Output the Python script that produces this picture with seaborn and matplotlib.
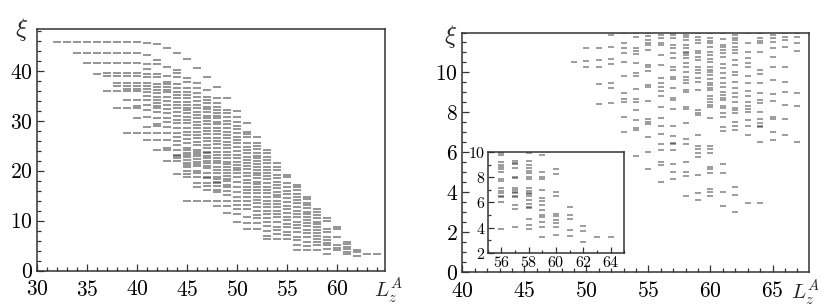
import matplotlib
matplotlib.use("Agg")
import matplotlib.pyplot as plt
import seaborn as sns
import pandas as pd
from matplotlib.ticker import MultipleLocator, FixedLocator

# ---------------- data ----------------
left_L = list(range(32, 65))
left_xi = [
    [45.8],
    [45.8],
    [45.8, 43.6],
    [45.8, 43.6, 41.5],
    [45.8, 43.6, 41.5, 39.3],
    [45.8, 43.6, 41.5, 39.5, 38.9, 35.9],
    [45.8, 43.6, 41.5, 39.5, 38.9, 37.5, 36.9, 35.9, 32.5],
    [45.8, 43.6, 41.5, 39.5, 38.9, 37.5, 36.9, 36.4, 35.9, 34.1, 32.5, 27.6],
    [45.8, 43.6, 41.5, 39.5, 38.9, 37.5, 36.9, 36.4, 35.9, 34.1, 33.0, 32.5, 30.6, 27.6],
    [45.6, 43.1, 41.3, 40.3, 39.3, 38.8, 37.5, 37.0, 36.3, 35.8, 35.0, 34.1, 33.1, 32.1, 30.8, 28.8, 27.6, 26.1],
    [45.3, 42.1, 41.3, 39.3, 38.8, 37.3, 36.8, 36.1, 35.5, 34.8, 34.1, 33.5, 33.0, 32.5, 31.7, 30.6, 29.3, 29.0,
     27.6, 26.1, 24.1],
    [44.6, 40.8, 39.0, 37.8, 37.3, 36.8, 36.1, 35.7, 34.8, 33.9, 33.1, 32.3, 31.5, 30.5, 29.7, 28.8, 27.5, 26.1,
     24.5, 24.1, 21.9],
    [43.6, 40.1, 39.5, 38.8, 37.3, 36.5, 35.8, 35.1, 34.5, 33.8, 33.1, 32.5, 31.7, 31.0, 30.1, 29.5, 28.5, 27.5,
     26.8, 25.9, 25.1, 24.1, 23.1, 22.9, 22.5, 21.9, 19.3],
    [42.3, 38.5, 37.7, 36.6, 35.8, 35.1, 34.5, 33.8, 33.1, 32.6, 32.1, 31.5, 30.8, 30.1, 29.5, 28.6, 27.8, 27.1,
     26.3, 25.5, 24.5, 24.1, 23.5, 23.1, 22.8, 22.1, 21.6, 21.1, 20.8, 20.0, 19.3, 18.8, 13.9],
    [40.6, 37.5, 36.6, 35.5, 34.8, 33.9, 33.1, 32.6, 31.8, 31.1, 30.5, 29.8, 29.1, 28.5, 27.8, 27.1, 26.5, 25.8,
     25.1, 24.1, 23.8, 23.3, 22.9, 22.3, 21.8, 21.3, 20.9, 20.0, 19.6, 18.8, 17.6, 16.7, 13.9],
    [38.8, 36.1, 34.8, 34.1, 33.5, 32.8, 32.3, 31.7, 31.0, 30.5, 29.9, 29.3, 28.6, 27.9, 27.3, 26.6, 25.9, 25.1,
     24.5, 23.8, 23.5, 22.9, 22.5, 22.0, 21.5, 20.9, 20.5, 19.6, 18.8, 18.5, 17.6, 16.9, 16.1, 13.9],
    [36.8, 34.5, 33.5, 32.8, 32.1, 31.5, 31.0, 30.5, 29.8, 29.3, 28.6, 27.9, 27.3, 26.6, 25.9, 25.3, 24.6, 23.8,
     23.1, 22.5, 21.9, 21.5, 20.8, 20.1, 19.5, 18.8, 18.3, 17.8, 17.5, 16.9, 16.1, 15.8, 13.9, 12.9],
    [34.6, 32.1, 31.5, 30.8, 29.9, 29.3, 28.6, 27.8, 27.1, 26.5, 25.8, 25.1, 24.5, 23.8, 23.1, 22.5, 21.8, 21.3,
     20.7, 20.1, 19.6, 19.0, 18.4, 17.9, 17.2, 16.7, 16.0, 15.1, 13.9, 12.9, 11.5],
    [32.0, 30.8, 29.8, 28.9, 28.3, 27.5, 26.8, 26.1, 25.5, 24.7, 24.0, 23.1, 22.5, 21.8, 21.1, 20.5, 20.1, 19.5,
     18.7, 17.8, 16.8, 15.8, 14.8, 13.9, 13.1, 12.3, 11.3, 9.8],
    [29.5, 27.8, 27.3, 26.8, 25.5, 24.8, 24.1, 23.5, 22.8, 22.1, 21.6, 20.9, 20.3, 19.6, 18.9, 18.1, 17.5, 16.7,
     16.1, 15.5, 14.7, 13.9, 13.1, 12.3, 10.8, 9.6, 8.3],
    [26.8, 25.5, 24.9, 24.3, 23.6, 22.9, 22.5, 22.0, 21.3, 20.8, 20.1, 19.6, 19.1, 18.5, 17.8, 17.3, 16.8, 16.1,
     15.5, 14.8, 14.1, 13.5, 12.7, 12.0, 11.1, 10.5, 9.5, 8.3],
    [24.1, 23.5, 22.8, 22.1, 21.5, 20.8, 20.1, 19.5, 18.9, 18.3, 17.6, 16.8, 16.1, 15.5, 14.8, 14.0, 13.3, 12.7,
     12.0, 11.3, 10.5, 9.8, 8.9, 8.0, 6.9, 6.3],
    [21.6, 20.8, 20.1, 19.1, 18.5, 17.8, 17.1, 16.5, 15.8, 15.1, 14.7, 14.0, 13.3, 12.7, 12.0, 11.3, 10.7, 9.8,
     8.8, 8.1, 7.3, 6.3],
    [19.1, 18.7, 17.6, 16.8, 16.0, 15.3, 14.5, 13.8, 12.9, 12.3, 11.6, 10.8, 10.1, 9.3, 8.7, 7.8, 7.1, 6.3],
    [17.1, 16.7, 16.1, 15.3, 14.8, 14.1, 13.5, 12.8, 12.0, 11.3, 10.7, 9.8, 9.1, 8.5, 7.8, 6.8, 6.1, 5.1, 4.1],
    [14.8, 14.3, 13.6, 13.1, 12.5, 11.8, 11.3, 10.8, 10.1, 9.5, 8.9, 8.1, 7.5, 6.7, 5.8, 4.9, 4.1],
    [12.3, 11.8, 11.1, 10.5, 9.8, 9.3, 8.8, 8.1, 7.5, 6.9, 6.3, 5.8, 5.1, 4.1],
    [10.5, 10.0, 8.3, 7.8, 6.8, 6.1, 5.6, 5.1, 4.3, 3.3],
    [8.7, 8.3, 6.8, 5.1, 4.5, 4.1],
    [5.8, 5.3, 4.7, 4.3, 3.7, 3.3],
    [4.1, 3.7, 2.9],
    [3.3],
    [3.3],
]

right_L = list(range(49, 68))
right_xi = [
    [10.53],
    [11.2, 10.58, 10.25],
    [11.2, 10.6, 10.25, 9.4, 8.4],
    [11.87, 11.25, 10.65, 10.4, 9.45, 9.2, 8.48],
    [11.95, 11.45, 11.2, 10.95, 10.5, 9.8, 8.98, 8.65, 8.53, 7.78, 7.03],
    [11.95, 11.75, 11.2, 11.08, 10.9, 10.48, 9.95, 9.82, 9.17, 8.65, 8.53, 8.12, 7.62, 7.2, 7.1, 5.83],
    [11.95, 11.83, 11.62, 11.48, 11.37, 11.12, 10.37, 10.25, 10.08, 9.37, 9.28, 8.56, 7.65, 7.53, 7.42, 6.78,
     6.03, 5.15],
    [11.87, 11.7, 11.48, 11.37, 10.87, 10.37, 9.7, 9.45, 9.28, 9.07, 8.82, 8.28, 7.7, 7.32, 6.92, 6.42, 6.12,
     5.53, 5.37, 4.53],
    [11.98, 11.87, 11.7, 11.37, 11.2, 10.95, 10.7, 10.28, 10.12, 9.78, 9.65, 9.2, 8.7, 8.62, 8.15, 7.32, 6.82,
     6.48, 6.42, 6.12, 5.42, 5.03, 4.65],
    [11.87, 11.75, 11.62, 11.37, 11.2, 11.03, 10.95, 10.87, 10.7, 10.45, 10.28, 10.03, 9.78, 9.62, 9.45, 9.12,
     9.03, 8.25, 8.15, 7.45, 6.65, 6.42, 5.53, 5.03, 4.82, 3.82],
    [11.95, 11.78, 11.62, 11.48, 11.08, 10.95, 10.75, 10.62, 10.28, 10.12, 9.95, 9.7, 9.53, 9.12, 8.12, 7.98,
     7.87, 6.87, 6.32, 6.15, 5.95, 5.78, 4.87, 3.98, 3.62],
    [11.98, 11.7, 11.58, 11.45, 11.28, 11.03, 10.87, 10.65, 10.53, 10.28, 10.12, 10.03, 9.87, 9.65, 9.48, 9.37,
     9.2, 9.12, 8.82, 8.65, 8.53, 8.37, 8.25, 7.7, 6.32, 6.15, 5.98, 5.25, 5.17, 4.98, 4.15, 4.03, 3.82],
    [11.95, 11.65, 11.37, 11.25, 11.12, 10.95, 10.75, 10.42, 10.2, 9.95, 9.7, 9.45, 9.28, 9.03, 8.87, 8.7, 8.62,
     8.32, 8.2, 7.95, 7.75, 7.28, 7.07, 5.42, 4.95, 4.03, 3.32],
    [11.87, 11.7, 11.62, 11.48, 11.28, 11.12, 10.95, 10.62, 10.37, 10.03, 9.87, 9.53, 9.2, 8.95, 8.78, 8.53,
     8.23, 8.12, 7.95, 7.53, 7.32, 7.12, 4.28, 3.87, 3.03],
    [11.95, 11.45, 11.03, 10.7, 10.48, 10.28, 9.82, 9.45, 9.07, 8.82, 8.53, 8.32, 8.15, 8.03, 7.62, 7.32, 6.87,
     3.45],
    [11.98, 11.7, 11.58, 11.45, 11.03, 10.12, 9.92, 9.48, 8.95, 8.62, 8.45, 8.03, 7.65, 7.48, 7.32, 7.25, 6.53,
     3.45],
    [11.87, 11.7, 11.53, 11.2, 10.78, 10.28, 9.62, 8.92, 8.58, 7.78, 7.65, 7.03, 6.62],
    [11.98, 11.78, 11.62, 11.25, 10.28, 9.53, 9.03, 8.37, 7.65, 6.87],
    [11.95, 11.78, 11.48, 11.08, 8.98, 8.32, 6.53],
]

inset_L = list(range(56, 65))
inset_xi = [
    [9.92, 9.79, 9.26, 8.99, 8.80, 8.65, 8.46, 7.85, 7.72, 7.13, 6.95, 6.73, 6.52, 6.41, 6.02, 3.86],
    [9.34, 9.18, 9.07, 8.73, 8.06, 7.93, 7.13, 7.00, 6.87, 6.73, 6.52, 6.41, 5.80, 5.46, 4.08],
    [9.92, 9.34, 8.99, 8.73, 8.54, 8.33, 8.01, 7.88, 7.13, 6.95, 6.79, 6.65, 6.52, 6.20, 5.88, 5.67, 5.54,
     4.66, 4.21, 3.86],
    [9.79, 8.46, 8.01, 7.85, 7.00, 6.33, 6.12, 5.80, 5.41, 5.01, 4.87, 4.48, 4.02, 3.28],
    [8.65, 8.27, 6.87, 6.52, 5.09, 4.93, 4.61, 4.40, 4.02, 3.41],
    [5.62, 5.01, 4.66, 3.81, 3.33],
    [4.13, 3.76, 2.88],
    [3.28],
    [3.28],
]


def to_frame(Ls, xis):
    rows = [(L, v) for L, vals in zip(Ls, xis) for v in vals]
    return pd.DataFrame(rows, columns=["L", "xi"])


df_left = to_frame(left_L, left_xi)
df_right = to_frame(right_L, right_xi)
df_inset = to_frame(inset_L, inset_xi)

# ---------------- style ----------------
sns.set_theme(style="white")
plt.rcParams["font.family"] = ["cmr10", "DejaVu Serif"]
plt.rcParams["mathtext.fontset"] = "cm"
plt.rcParams["axes.formatter.use_mathtext"] = True
plt.rcParams["axes.unicode_minus"] = False

fig = plt.figure(figsize=(8.3, 3.07), dpi=100)
W, H = 830.0, 307.0


def add_ax(x0, y0, x1, y1):
    return fig.add_axes([x0 / W, 1 - y1 / H, (x1 - x0) / W, (y1 - y0) / H])


ax1 = add_ax(37, 29.3, 384.5, 270.7)
ax2 = add_ax(462.3, 32.5, 808.5, 272.3)
axi = add_ax(487.7, 152.3, 624.3, 252.7)

dash_kw = dict(marker="_", color="k", alpha=0.5, legend=False)
sns.scatterplot(data=df_left, x="L", y="xi", s=28, linewidth=1.3, ax=ax1, **dash_kw)
sns.scatterplot(data=df_right, x="L", y="xi", s=15, linewidth=1.2, ax=ax2, **dash_kw)
sns.scatterplot(data=df_inset, x="L", y="xi", s=20, linewidth=1.2, ax=axi, **dash_kw)


def style(ax, xlim, ylim, xmaj, xmin, ymaj, ymin, fs, maj_len, min_len, xpad):
    ax.set_xlim(*xlim)
    ax.set_ylim(*ylim)
    ax.xaxis.set_major_locator(MultipleLocator(xmaj))
    ax.xaxis.set_minor_locator(MultipleLocator(xmin))
    ax.yaxis.set_major_locator(FixedLocator(ymaj))
    ax.yaxis.set_minor_locator(MultipleLocator(ymin))
    ax.set_xlabel("")
    ax.set_ylabel("")
    for sp in ax.spines.values():
        sp.set_visible(True)
        sp.set_color("#333333")
        sp.set_linewidth(1.1)
    ax.tick_params(which="both", direction="in", top=False, right=False,
                   bottom=True, left=True, colors="#333333", labelcolor="black",
                   width=0.9)
    ax.tick_params(which="major", length=maj_len, labelsize=fs)
    ax.tick_params(axis="x", which="major", pad=xpad)
    ax.tick_params(axis="y", which="major", pad=3)
    ax.tick_params(which="minor", length=min_len)
    ax.set_facecolor("white")


style(ax1, (30, 64.75), (0, 48.3), 5, 1, [0, 10, 20, 30, 40], 2, 15.5, 5, 3, 6.5)
style(ax2, (40, 67.9), (0, 12.0), 5, 1, [0, 2, 4, 6, 8, 10], 0.5, 15.5, 5, 3, 6.5)
style(axi, (55, 65), (2, 10), 2, 1, [2, 4, 6, 8, 10], 1, 11.5, 4, 2.5, 2)
axi.tick_params(axis="y", which="major", pad=1.5)
axi.set_zorder(5)

ax1.text(-0.043, 1.0, r"$\xi$", transform=ax1.transAxes, ha="center", va="center", fontsize=18)
ax2.text(-0.035, 0.985, r"$\xi$", transform=ax2.transAxes, ha="center", va="center", fontsize=18)
ax1.text(1.012, -0.025, r"$L_z^A$", transform=ax1.transAxes, ha="center", va="top", fontsize=15)
ax2.text(0.99, -0.025, r"$L_z^A$", transform=ax2.transAxes, ha="center", va="top", fontsize=15)

fig.savefig("out.png", dpi=100)
